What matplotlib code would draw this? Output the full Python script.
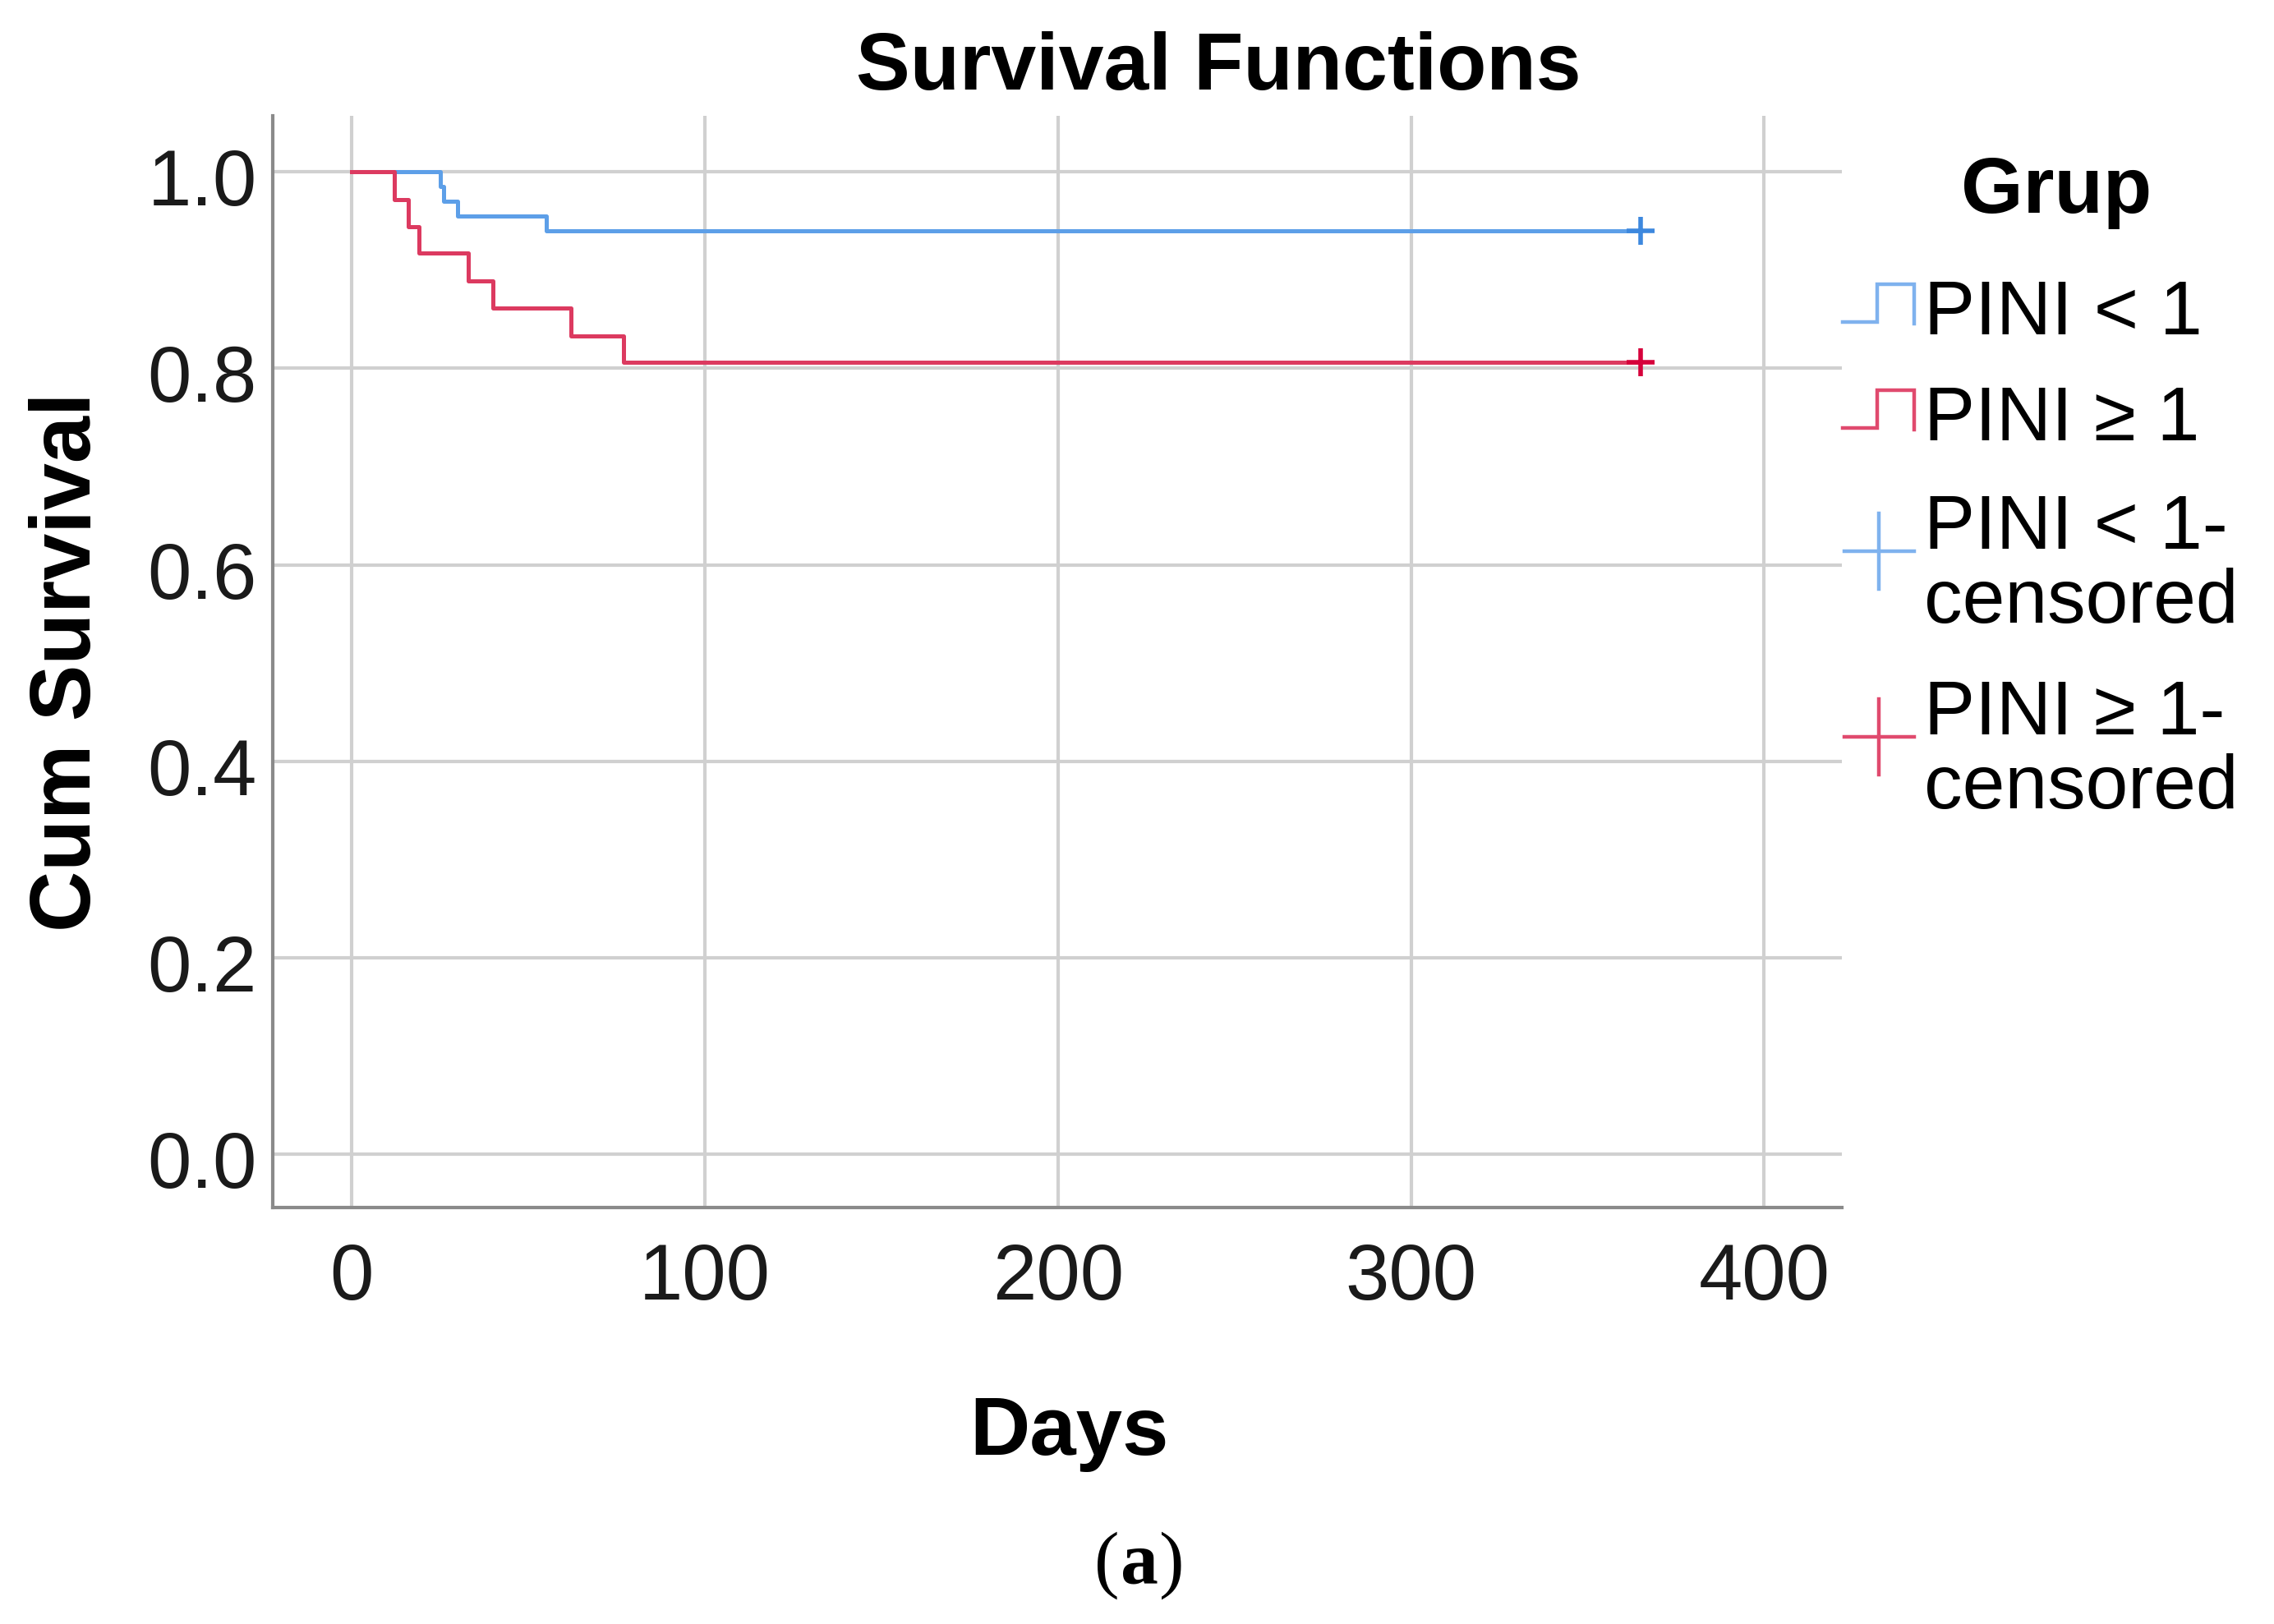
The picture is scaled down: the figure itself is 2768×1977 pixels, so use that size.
import matplotlib
matplotlib.use("Agg")
import matplotlib.pyplot as plt
from matplotlib.transforms import ScaledTranslation

# ---- data ----
blue_days = [0, 25, 26, 30, 55, 365]
blue_surv = [1.0, 0.985, 0.970, 0.955, 0.940, 0.940]
red_days = [0, 12, 16, 19, 33, 40, 62, 77, 365]
red_surv = [1.0, 0.972, 0.944, 0.917, 0.889, 0.861, 0.833, 0.806, 0.806]
blue_censor_day = [365]
blue_censor_surv = [0.940]
red_censor_day = [365]
red_censor_surv = [0.806]
x_ticks = [0, 100, 200, 300, 400]
y_ticks = [0.0, 0.2, 0.4, 0.6, 0.8, 1.0]
legend_labels = ["PINI < 1", "PINI ≥ 1", "PINI < 1-\ncensored", "PINI ≥ 1-\ncensored"]

W, H = 2768, 1977
fig = plt.figure(figsize=(W / 100, H / 100), dpi=100)

BLUE_L = "#5d9fe8"
RED_L = "#dc3a60"
BLUE_M = "#3d88de"
RED_M = "#d6003b"
BLUE_LEG = "#7fb2ee"
RED_LEG = "#e04a6e"
GRID = "#d0d0d0"
SANS = "Liberation Sans"

l, r, t, b = 332, 2242, 141, 1470
ax = fig.add_axes([l / W, 1 - b / H, (r - l) / W, (b - t) / H])
ax.set_xlim(-22.4, 422)
ax.set_ylim(-0.054, 1.057)

ax.step(blue_days, blue_surv, where="post", color=BLUE_L, lw=3.6, zorder=3)
ax.step(red_days, red_surv, where="post", color=RED_L, lw=3.6, zorder=3)
ax.plot(blue_censor_day, blue_censor_surv, "+", color=BLUE_M, ms=24, mew=4, zorder=4)
ax.plot(red_censor_day, red_censor_surv, "+", color=RED_M, ms=24, mew=4, zorder=4)

ax.set_xticks(x_ticks)
ax.set_yticks(y_ticks)
ax.set_xticklabels([str(v) for v in x_ticks])
ax.set_yticklabels([f"{v:.1f}" for v in y_ticks])
ax.grid(True, color=GRID, lw=3)
ax.set_axisbelow(True)
ax.tick_params(axis="both", length=0, labelsize=69, labelcolor="#1a1a1a",
               labelfontfamily=SANS)
ax.tick_params(axis="x", pad=30)
ax.tick_params(axis="y", pad=14)
off = ScaledTranslation(0, -6 / 100, fig.dpi_scale_trans)
for lab in ax.get_yticklabels():
    lab.set_transform(lab.get_transform() + off)
for s in ["top", "right"]:
    ax.spines[s].set_visible(False)
for s in ["left", "bottom"]:
    ax.spines[s].set_color("#8a8a8a")
    ax.spines[s].set_linewidth(3)

bold = dict(family=SANS, weight="bold", color="black")
ax.set_ylabel("Cum Survival", fontsize=74, labelpad=34, **bold)

fig.text(1483 / W, 1 - 84 / H, "Survival Functions", ha="center", va="center", fontsize=71, **bold)

# ---- overlay in pixel coordinates for legend, x label and caption ----
ov = fig.add_axes([0, 0, 1, 1])
ov.set_xlim(0, W)
ov.set_ylim(H, 0)
ov.axis("off")
ov.text(1301, 1745, "Days", ha="center", va="center", fontsize=73, **bold)
ov.text(2503, 234, "Grup", ha="center", va="center", fontsize=70, **bold)

def step_handle(y_low, y_high, color):
    ov.plot([2243, 2285, 2285, 2330, 2330], [y_low, y_low, y_high, y_high, y_low + 2],
            color=color, lw=3.2, solid_joinstyle="miter")

def plus_handle(yc, color):
    ov.plot([2245, 2330], [yc, yc], color=color, lw=3.2)
    ov.plot([2287, 2287], [yc - 46, yc + 46], color=color, lw=3.2)

step_handle(392, 346, BLUE_LEG)
step_handle(521, 475, RED_LEG)
plus_handle(671, BLUE_LEG)
plus_handle(897, RED_LEG)

tk = dict(family=SANS, fontsize=67, color="black", ha="left", va="center")
ov.text(2342, 383, legend_labels[0], **tk)
ov.text(2342, 512, legend_labels[1], **tk)
ov.text(2342, 689, legend_labels[2], linespacing=1.07, **tk)
ov.text(2342, 915, legend_labels[3], linespacing=1.07, **tk)

# caption
cap = dict(va="center", family="Liberation Serif", fontsize=66, color="black")
ov.text(1362, 1906, "(", ha="right", **cap)
ov.text(1387, 1906, "a", ha="center", weight="bold", **cap)
ov.text(1411, 1906, ")", ha="left", **cap)

fig.savefig("out.png", dpi=100, facecolor="white")
